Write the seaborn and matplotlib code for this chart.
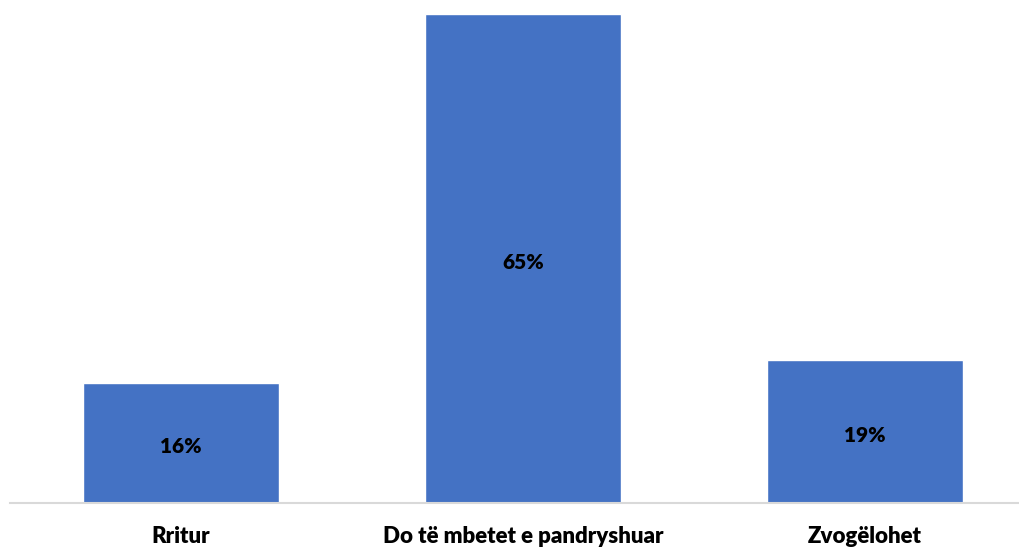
import matplotlib
matplotlib.use("Agg")
import matplotlib.pyplot as plt
import seaborn as sns
import pandas as pd

categories = ["Rritur", "Do të mbetet e pandryshuar", "Zvogëlohet"]
values = [16, 65, 19]
labels = ["16%", "65%", "19%"]

sns.set_theme(style="white")
plt.rcParams['font.family'] = ['Lato', 'DejaVu Sans']

W, H = 1020, 548
fig = plt.figure(figsize=(W / 100, H / 100), dpi=100)
left, right = 10, 1020
bottom, top = 503, 14
ax = fig.add_axes([left / W, (H - bottom) / H, (right - left) / W, (bottom - top) / H])

df = pd.DataFrame({"cat": categories, "val": values})
sns.barplot(data=df, x="cat", y="val", color="#4472C4", saturation=1, width=0.575, ax=ax)

ax.set_xlim(-0.5, -0.5 + (right - left) / 342)
ax.set_ylim(0, 65)
for i, (v, lab) in enumerate(zip(values, labels)):
    ax.text(i, v / 2 - 0.5, lab, ha="center", va="center", fontsize=15, fontweight="heavy", color="black")

ax.set_xlabel("")
ax.set_ylabel("")
ax.set_yticks([])
for s in ["top", "left", "right"]:
    ax.spines[s].set_visible(False)
ax.spines["bottom"].set_color("#D9D9D9")
ax.spines["bottom"].set_linewidth(1.5)
ax.tick_params(axis="x", length=0, pad=16.5)
for t in ax.get_xticklabels():
    t.set_fontsize(16)
    t.set_fontweight("heavy")
    t.set_color("black")

fig.savefig("out.png", dpi=100)
